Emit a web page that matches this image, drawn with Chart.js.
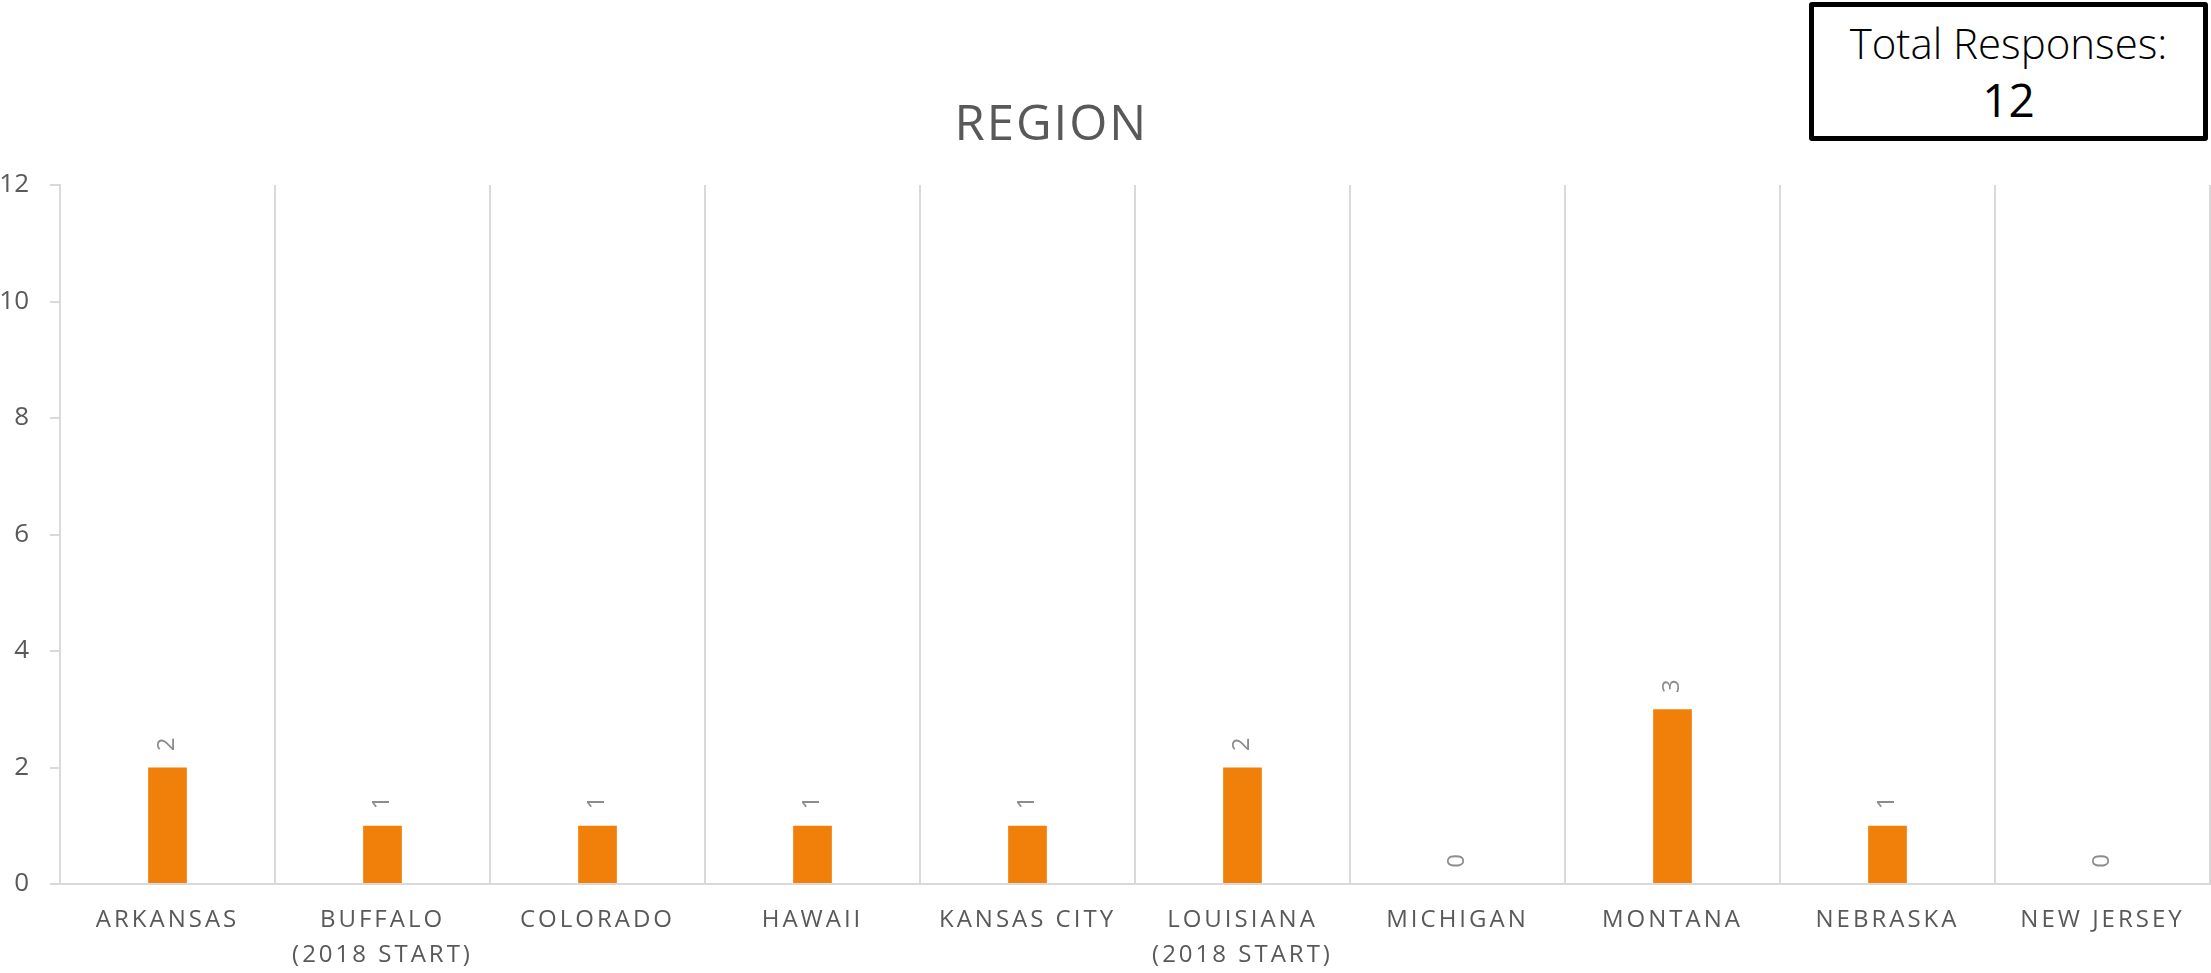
<!DOCTYPE html>
<html>
<head>
<meta charset="utf-8">
<script src="https://cdn.jsdelivr.net/npm/chart.js@4"></script>
<style>
  body { margin: 0; background: #fff; overflow: hidden; }
  #wrap { position: relative; width: 2211px; height: 973px; }
  #total {
    position: absolute; left: 1809px; top: 2px; width: 389px; height: 129px;
    border: 5px solid #000; border-radius: 3px; background: #fff;
    font-family: "Open Sans", sans-serif; color: #000; text-align: center;
  }
  #total .lbl { position: absolute; left: 0; right: 0; top: 10px; font-size: 42px; font-weight: 300; line-height: 52px; }
  #total .num { position: absolute; left: 0; right: 0; top: 64px; font-size: 46px; font-weight: 400; line-height: 56px; }
</style>
</head>
<body>
<div id="wrap">
  <canvas id="chart" width="2211" height="973"></canvas>
  <div id="total"><div class="lbl">Total Responses:</div><div class="num">12</div></div>
</div>
<script>
const regions = [
  'ARKANSAS', ['BUFFALO', '(2018 START)'], 'COLORADO', 'HAWAII', 'KANSAS CITY',
  ['LOUISIANA', '(2018 START)'], 'MICHIGAN', 'MONTANA', 'NEBRASKA', 'NEW JERSEY'
];
const responses = [2, 1, 1, 1, 1, 2, 0, 3, 1, 0];
const yTicks = [0, 2, 4, 6, 8, 10, 12];
const chartTitle = 'REGION';

const grey = '#595959';
const gridGrey = '#d9d9d9';

// rotated value labels above each bar
const valueLabels = {
  id: 'valueLabels',
  afterDatasetsDraw(chart) {
    const ctx = chart.ctx;
    const meta = chart.getDatasetMeta(0);
    ctx.save();
    ctx.font = '24px "Open Sans"';
    ctx.fillStyle = '#8c8c8c';
    ctx.textAlign = 'center';
    ctx.textBaseline = 'middle';
    meta.data.forEach((bar, i) => {
      ctx.save();
      ctx.translate(bar.x, bar.y - 23);
      ctx.rotate(-Math.PI / 2);
      ctx.fillText(String(responses[i]), 0, 0);
      ctx.restore();
    });
    ctx.restore();
  }
};

// x labels are drawn after the datasets (z: 1), so spacing only hits them
const spacing = {
  id: 'spacing',
  beforeDraw(chart) { chart.ctx.letterSpacing = '0px'; },
  afterDatasetsDraw(chart) { chart.ctx.letterSpacing = '3px'; },
  afterDraw(chart) { chart.ctx.letterSpacing = '0px'; }
};

// title sits a little left of centre in the original, so draw it here
const titleText = {
  id: 'titleText',
  afterDraw(chart) {
    const ctx = chart.ctx;
    ctx.save();
    ctx.letterSpacing = '2px';
    ctx.font = '49px "Open Sans"';
    ctx.fillStyle = grey;
    ctx.textAlign = 'center';
    ctx.textBaseline = 'middle';
    ctx.fillText(chartTitle, chart.width * 0.4755, 126);
    ctx.restore();
  }
};

new Chart(document.getElementById('chart'), {
  type: 'bar',
  data: {
    labels: regions,
    datasets: [{
      data: responses,
      backgroundColor: '#f0800a',
      borderWidth: 0,
      barPercentage: 0.18,
      categoryPercentage: 1
    }]
  },
  options: {
    responsive: false,
    animation: false,
    devicePixelRatio: 1,
    layout: { padding: { left: 0, right: 1, top: 185, bottom: 0 } },
    plugins: {
      legend: { display: false },
      tooltip: { enabled: false },
      title: { display: false }
    },
    scales: {
      x: {
        grid: { display: true, color: gridGrey, lineWidth: 2, drawTicks: false, offset: true, z: 0 },
        border: { display: true, color: gridGrey, width: 2, z: 0 },
        ticks: {
          z: 1,
          color: grey,
          padding: 19,
          maxRotation: 0,
          autoSkip: false,
          font: { family: 'Open Sans', size: 24, lineHeight: 1.45 }
        },
        afterFit(scale) { scale.height = 89; }
      },
      y: {
        min: 0,
        max: 12,
        afterBuildTicks(scale) { scale.ticks = yTicks.map(v => ({ value: v })); },
        grid: { display: true, drawOnChartArea: false, drawTicks: true, tickLength: 10, color: gridGrey, lineWidth: 2 },
        border: { display: true, color: gridGrey, width: 2 },
        ticks: {
          color: grey,
          padding: 21,
          font: { family: 'Open Sans', size: 26 }
        },
        afterFit(scale) { scale.width = 60; }
      }
    }
  },
  plugins: [valueLabels, spacing, titleText]
});
</script>
</body>
</html>
